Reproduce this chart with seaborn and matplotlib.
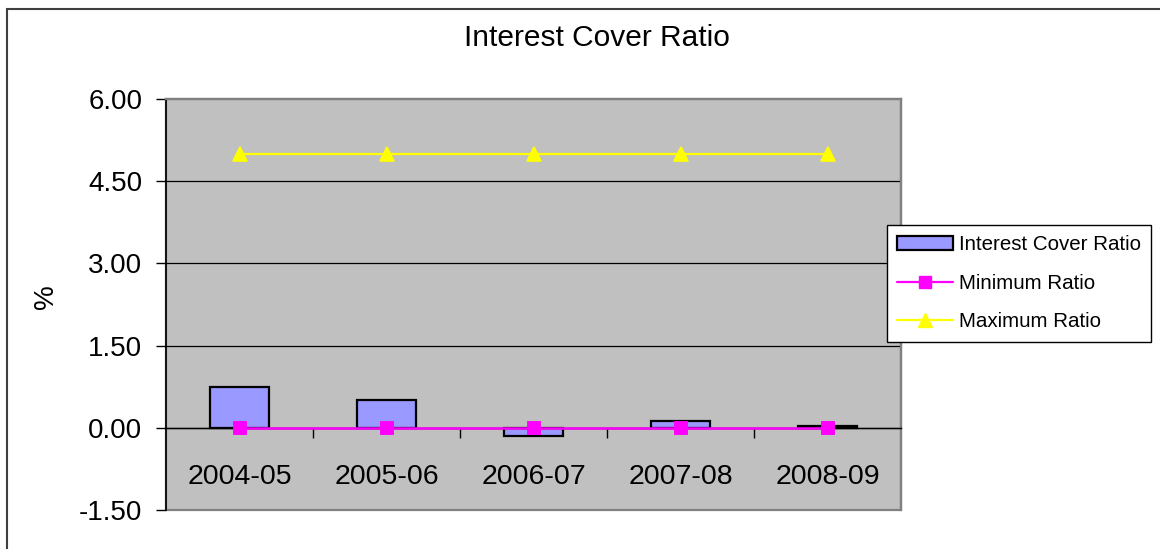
import numpy as np
import pandas as pd
import matplotlib
matplotlib.use("Agg")
import matplotlib.pyplot as plt
import seaborn as sns
from matplotlib.patches import Patch, Rectangle
from matplotlib.lines import Line2D
from matplotlib.ticker import FixedLocator

# values
years = ["2004-05", "2005-06", "2006-07", "2007-08", "2008-09"]
interest_cover = [0.74, 0.51, -0.15, 0.12, 0.04]
minimum_ratio = [0.0, 0.0, 0.0, 0.0, 0.0]
maximum_ratio = [5.0, 5.0, 5.0, 5.0, 5.0]
yticks = [-1.5, 0.0, 1.5, 3.0, 4.5, 6.0]

df = pd.DataFrame({"year": years, "icr": interest_cover,
                   "min": minimum_ratio, "max": maximum_ratio})

sns.set_style("white")
plt.rcParams["font.family"] = ["Liberation Sans", "DejaVu Sans"]
plt.rcParams["text.color"] = "black"
plt.rcParams["axes.labelcolor"] = "black"
plt.rcParams["xtick.color"] = "black"
plt.rcParams["ytick.color"] = "black"

bar_col = "#9999FF"
min_col = "#FF00FF"
max_col = "#FFFF00"

fig = plt.figure(figsize=(11.6, 5.49), dpi=100)
ax = fig.add_axes([166 / 1160, 1 - 510 / 549, 735 / 1160, 411 / 549])
ax.set_facecolor("#C0C0C0")

# gridlines
for v in yticks[1:-1]:
    ax.axhline(v, color="black", lw=0.9, zorder=0.5)

sns.barplot(data=df, x="year", y="icr", order=years, color=bar_col,
            width=0.4, edgecolor="black", linewidth=1.6, saturation=1,
            ax=ax, zorder=2)
sns.pointplot(data=df, x="year", y="max", order=years, color=max_col,
              errorbar=None, markers="^", markersize=10, linewidth=1.6,
              ax=ax, zorder=3)
sns.pointplot(data=df, x="year", y="min", order=years, color=min_col,
              errorbar=None, markers="s", markersize=8.5, linewidth=1.8,
              ax=ax, zorder=4)

ax.set_xlim(-0.5, len(years) - 0.5)
ax.set_ylim(-1.5, 6.0)
ax.set_yticks(yticks)
ax.set_yticklabels([f"{v:.2f}" for v in yticks], fontsize=20)
ax.tick_params(axis="y", direction="out", length=7, width=1, color="black",
               pad=10, left=True)

# category axis crossing at zero, labels below it
ax.spines["bottom"].set_position(("data", 0))
ax.spines["bottom"].set_color("black")
ax.spines["bottom"].set_linewidth(1)
ax.spines["bottom"].set_zorder(2.5)
ax.set_xticks(range(len(years)))
ax.set_xticklabels(years, fontsize=20.5)
ax.xaxis.set_minor_locator(FixedLocator(np.arange(0.5, len(years) - 0.5, 1)))
ax.tick_params(axis="x", which="major", length=0, pad=26)
ax.tick_params(axis="x", which="minor", direction="out", length=7,
               width=1, color="black", bottom=True)
ax.set_xlabel("")

ax.set_ylabel("%", fontsize=20)
ax.yaxis.set_label_coords(-0.145, 0.52)

for s in ["top", "right"]:
    ax.spines[s].set_color("#808080")
    ax.spines[s].set_linewidth(1.6)
ax.spines["left"].set_color("black")
ax.spines["left"].set_linewidth(1.2)
ax.patch.set_edgecolor("#808080")
ax.patch.set_linewidth(1.6)
ax.grid(False)

fig.text(597 / 1160, 1 - 38 / 549, "Interest Cover Ratio", fontsize=21.5,
         ha="center", va="center")

handles = [
    Patch(facecolor=bar_col, edgecolor="black", linewidth=1.6),
    Line2D([], [], color=min_col, marker="s", markersize=8.5, lw=1.6),
    Line2D([], [], color=max_col, marker="^", markersize=10, lw=1.6),
]
labels = ["Interest Cover Ratio", "Minimum Ratio", "Maximum Ratio"]
leg = fig.legend(handles, labels, loc="upper left",
                 bbox_to_anchor=(887 / 1160, 1 - 225 / 549),
                 fontsize=14.8, frameon=True, fancybox=False, framealpha=1,
                 edgecolor="black", handlelength=2.7, handletextpad=0.3,
                 labelspacing=0.95, borderpad=0.5, borderaxespad=0)
leg.get_frame().set_linewidth(1)

# outer chart border (cropped at right and bottom)
fig.add_artist(Rectangle((7 / 1160, -0.1), 1.2, 1 - 9 / 549 + 0.1,
                         transform=fig.transFigure, fill=False,
                         edgecolor="#404040", linewidth=1.5))

fig.savefig("out.png", dpi=100)
